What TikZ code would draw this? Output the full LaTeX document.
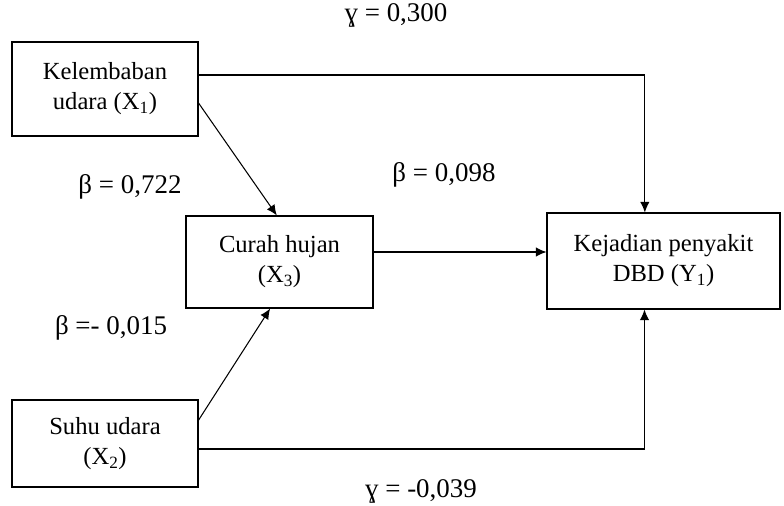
\documentclass[tikz,border=0pt]{standalone}
\usepackage{fontspec}
\setmainfont{Liberation Serif}
\usetikzlibrary{arrows.meta}
\begin{document}
\begin{tikzpicture}[x=0.03cm, y=-0.03cm]
	\tikzset{boite/.style={rectangle, draw=black, line width=0.9pt, align=center, inner sep=0pt, font=\fontsize{21}{25.6}\selectfont},
		coef/.style={font=\fontsize{23}{26}\selectfont, inner sep=0pt},
		fleche/.style={>={Latex[length=9pt, width=8pt]}, ->, line width=0.9pt}};
	\useasboundingbox (0,0) rectangle (784,506);

	\node[boite, minimum width=5.58cm, minimum height=2.82cm] (kel) at (105, 89) {Kelembaban\\udara (X\textsubscript{1})};
	\node[boite, minimum width=5.61cm, minimum height=2.76cm] (cur) at (279.5, 262) {Curah hujan\\(X\textsubscript{3})};
	\node[boite, minimum width=6.99cm, minimum height=2.88cm] (kej) at (663.5, 261) {Kejadian penyakit\\DBD (Y\textsubscript{1})};
	\node[boite, minimum width=5.58cm, minimum height=2.61cm] (suhu) at (105, 443.5) {Suhu udara\\(X\textsubscript{2})};

	\node[coef] (g1) at (396, 15) {ɣ = 0,300};
	\node[coef] (b1) at (130, 187) {β = 0,722};
	\node[coef] (b3) at (444, 175) {β = 0,098};
	\node[coef] (b2) at (111, 328) {β =- 0,015};
	\node[coef] (g2) at (421, 491) {ɣ = -0,039};

	\draw[fleche] ([yshift=0.42cm]kel.east) -| ([xshift=-0.56cm]kej.north);
	\draw[fleche] ([yshift=-0.42cm]kel.east) -- ([xshift=-0.08cm]cur.north);
	\draw[fleche] ([yshift=0.3cm]cur.east) -- ([yshift=0.3cm]cur.east -| kej.west);
	\draw[fleche] ([yshift=0.7cm]suhu.east) -- ([xshift=-0.28cm]cur.south);
	\draw[fleche] ([yshift=-0.165cm]suhu.east) -| ([xshift=-0.57cm]kej.south);
\end{tikzpicture}
\end{document}
